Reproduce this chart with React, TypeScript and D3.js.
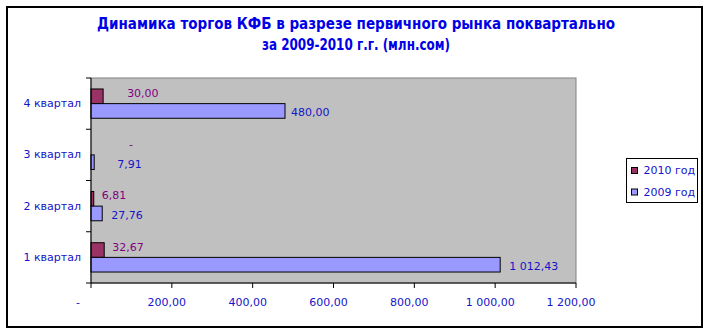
import React from "react";
import * as d3 from "d3";

const categories = ["1 квартал", "2 квартал", "3 квартал", "4 квартал"];
const series2010 = [32.67, 6.81, 0, 30.0];
const series2009 = [1012.43, 27.76, 7.91, 480.0];
const labels2010 = ["32,67", "6,81", "-", "30,00"];
const labels2009 = ["1 012,43", "27,76", "7,91", "480,00"];
const xTicks = [0, 200, 400, 600, 800, 1000, 1200];
const xTickLabels = ["-", "200,00", "400,00", "600,00", "800,00", "1 000,00", "1 200,00"];
const seriesNames = ["2010 год", "2009 год"];
const titleLines = [
  "Динамика торгов КФБ в разрезе первичного рынка поквартально",
  "за 2009-2010 г.г. (млн.сом)",
];

// layout-only values
const dx2010 = [8, 8, 38, 24];
const dx2009 = [9, 9, 23, 6];
const titleWidths = [518, 188];

const W = 710;
const H = 334;
const plot = { left: 91, right: 576, top: 78, bottom: 283 };
const C2010 = "#993366";
const C2009 = "#9999FF";
const TEXT = "#1414C8";
const LABEL2010 = "#800080";
const FONT = "'DejaVu Sans', Verdana, sans-serif";

export default function App() {
  const x = d3.scaleLinear().domain([0, 1200]).range([plot.left, plot.right]);
  const y = d3
    .scaleBand<string>()
    .domain([...categories].reverse())
    .range([plot.top, plot.bottom]);
  const bw = y.bandwidth();
  const barH = bw / 3.5;
  const gap = (bw - 2 * barH) / 2;

  return (
    <svg
      width={W}
      height={H}
      style={{ position: "absolute", left: 0, top: 0 }}
      fontFamily={FONT}
    >
      <rect x={0} y={0} width={W} height={H} fill="#fff" />
      <rect x={7} y={7} width={695} height={320} fill="#fff" stroke="#000" strokeWidth={2} />
      {titleLines.map((t, i) => (
        <text
          key={i}
          x={356}
          y={28.5 + i * 21}
          textAnchor="middle"
          fontFamily="'DejaVu Sans Condensed', 'DejaVu Sans', sans-serif"
          fontWeight="bold"
          fontSize={15}
          fill="#0000E6"
          textLength={titleWidths[i]}
          lengthAdjust="spacingAndGlyphs"
          style={{ fontStretch: "condensed" }}
        >
          {t}
        </text>
      ))}
      <rect
        x={plot.left}
        y={plot.top}
        width={plot.right - plot.left}
        height={plot.bottom - plot.top}
        fill="#C0C0C0"
        stroke="#808080"
        strokeWidth={1}
      />
      {categories.map((c, i) => {
        const y0 = (y(c) as number) + gap;
        return (
          <g key={c}>
            <rect
              x={x(0)}
              y={y0}
              width={x(series2010[i]) - x(0)}
              height={barH}
              fill={C2010}
              stroke="#000"
              strokeWidth={series2010[i] > 0 ? 1 : 0}
            />
            <rect
              x={x(0)}
              y={y0 + barH}
              width={x(series2009[i]) - x(0)}
              height={barH}
              fill={C2009}
              stroke="#000"
              strokeWidth={1}
            />
            <text
              x={x(series2010[i]) + dx2010[i]}
              y={y0 + barH / 2 - 3}
              dominantBaseline="central"
              fontSize={11}
              fill={LABEL2010}
            >
              {labels2010[i]}
            </text>
            <text
              x={x(series2009[i]) + dx2009[i]}
              y={y0 + barH * 1.5 + 2}
              dominantBaseline="central"
              fontSize={11}
              fill={TEXT}
            >
              {labels2009[i]}
            </text>
            <text
              x={81}
              y={(y(c) as number) + bw / 2}
              textAnchor="end"
              dominantBaseline="central"
              fontSize={11}
              fill={TEXT}
            >
              {c}
            </text>
          </g>
        );
      })}
      <line x1={plot.left} x2={plot.left} y1={plot.top} y2={plot.bottom} stroke="#000" />
      <line x1={plot.left} x2={plot.right} y1={plot.bottom} y2={plot.bottom} stroke="#000" />
      {[...categories, ""].map((_, i) => {
        const yy = plot.top + i * bw;
        return <line key={i} x1={plot.left - 5} x2={plot.left} y1={yy} y2={yy} stroke="#000" />;
      })}
      {xTicks.map((t, i) => (
        <g key={t}>
          <line x1={x(t)} x2={x(t)} y1={plot.bottom} y2={plot.bottom + 5} stroke="#000" />
          <text
            x={x(t) + (t === 0 ? -13 : -5)}
            y={302}
            textAnchor="middle"
            dominantBaseline="central"
            fontSize={11}
            fill={TEXT}
          >
            {xTickLabels[i]}
          </text>
        </g>
      ))}
      <rect x={626.5} y={158.5} width={71} height={44} fill="#fff" stroke="#000" />
      {seriesNames.map((n, i) => (
        <g key={n}>
          <rect
            x={631.5}
            y={167.5 + i * 21.5}
            width={6}
            height={6}
            fill={i === 0 ? C2010 : C2009}
            stroke="#000"
          />
          <text
            x={643.5}
            y={170.7 + i * 21.5}
            dominantBaseline="central"
            fontSize={11}
            fill={TEXT}
          >
            {n}
          </text>
        </g>
      ))}
    </svg>
  );
}
